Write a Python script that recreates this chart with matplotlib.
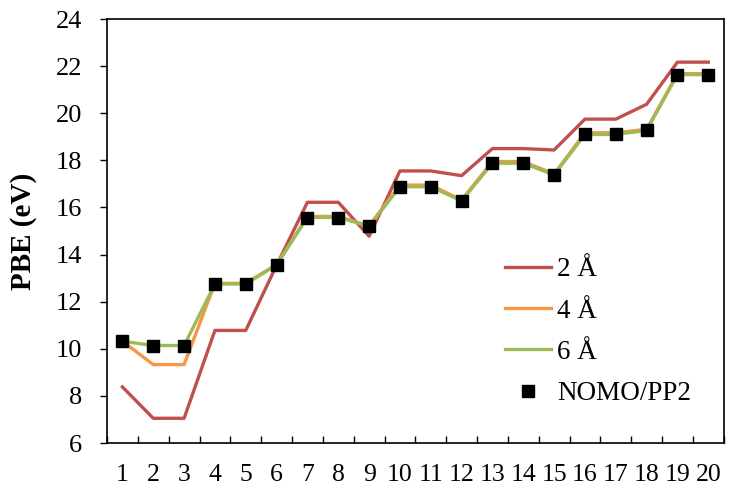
import matplotlib
matplotlib.use('Agg')
import matplotlib.pyplot as plt
import numpy as np

systems = list(range(1, 21))

pbe_2a = [8.38, 7.05, 7.05, 10.78, 10.78, 13.55, 16.22, 16.22, 14.78, 17.55,
          17.55, 17.35, 18.5, 18.5, 18.44, 19.75, 19.75, 20.38, 22.17, 22.17]
pbe_4a = [10.32, 9.33, 9.33, 12.78, 12.78, 13.58, 15.62, 15.62, 15.22, 16.95,
          16.95, 16.32, 17.95, 17.95, 17.42, 19.17, 19.17, 19.32, 21.68, 21.68]
pbe_6a = [10.32, 10.14, 10.14, 12.75, 12.75, 13.56, 15.58, 15.58, 15.2, 16.88,
          16.88, 16.28, 17.88, 17.88, 17.38, 19.1, 19.1, 19.27, 21.64, 21.64]
nomo_pp2 = [10.32, 10.12, 10.12, 12.75, 12.75, 13.56, 15.56, 15.56, 15.2, 16.87,
            16.87, 16.27, 17.88, 17.88, 17.37, 19.11, 19.11, 19.27, 21.63, 21.63]

plt.rcParams['font.family'] = ['Liberation Serif', 'DejaVu Serif']

fig = plt.figure(figsize=(7.31, 4.88), dpi=100)
ax = fig.add_axes([0.1464, 0.0922, 0.8436, 0.8688])

lw = 2.4
ax.plot(systems, pbe_2a, color='#C0504D', lw=lw, label='2 Å')
ax.plot(systems, pbe_4a, color='#F79646', lw=lw, label='4 Å')
ax.plot(systems, pbe_6a, color='#9BBB59', lw=lw, label='6 Å')
ax.plot(systems, nomo_pp2, 's', color='black', ms=9, label='NOMO/PP2')

ax.set_xlim(0.5, 20.5)
ax.set_ylim(6, 24)
ax.set_yticks(np.arange(6, 25, 2))
ax.set_xticks(systems)
ax.set_xticks(np.arange(0.5, 21, 1), minor=True)
ax.tick_params(axis='x', which='major', length=0, pad=15, labelsize=18.5)
ax.tick_params(axis='x', which='minor', direction='in', length=5, width=1)
ax.tick_params(axis='y', direction='out', length=5, width=1, labelsize=19, pad=13)
for s in ax.spines.values():
    s.set_linewidth(1.2)

ax.set_ylabel('PBE (eV)', fontsize=21, fontweight='bold', labelpad=13)

ax.legend(loc='upper left', bbox_to_anchor=(0.646, 0.438), frameon=False,
          fontsize=19.5, borderpad=0, borderaxespad=0, handlelength=1.7,
          handletextpad=0.22, labelspacing=0.6)

fig.savefig('out.png', dpi=100)
